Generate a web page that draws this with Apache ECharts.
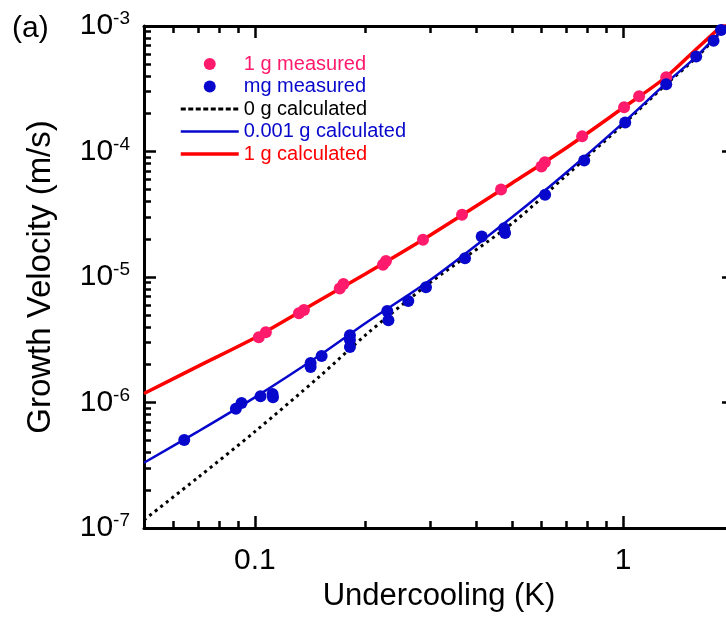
<!DOCTYPE html>
<html>
<head>
<meta charset="utf-8">
<script src="https://cdn.jsdelivr.net/npm/echarts@6/dist/echarts.min.js"></script>
<style>
html,body{margin:0;padding:0;background:#fff;overflow:hidden;}
#chart{width:726px;height:624px;}
</style>
</head>
<body>
<div id="chart"></div>
<script>
// ---- data ----
const xMajorTicks = [0.1, 1];
const xMinorTicks = [0.06, 0.07, 0.08, 0.09, 0.2, 0.3, 0.4, 0.5, 0.6, 0.7, 0.8, 0.9];
const yMajorTicks = [1e-7, 1e-6, 1e-5, 1e-4, 1e-3];
const yMinorTicks = [];
[1e-7, 1e-6, 1e-5, 1e-4].forEach(function (d) { for (let m = 2; m <= 9; m++) yMinorTicks.push(+(m * d).toPrecision(3)); });

const measured1g = [
  [0.1025, 3.31e-6], [0.1071, 3.63e-6], [0.1317, 5.15e-6], [0.1359, 5.45e-6],
  [0.170, 8.1e-6], [0.174, 8.8e-6], [0.2228, 1.25e-5], [0.2270, 1.34e-5],
  [0.2861, 1.98e-5], [0.3652, 3.13e-5], [0.4661, 4.97e-5], [0.600, 7.6e-5],
  [0.613, 8.2e-5], [0.7738, 1.32e-4], [1.006, 2.25e-4], [1.105, 2.75e-4],
  [1.309, 3.91e-4]
];
const measuredMg = [
  [0.0643, 5.03e-7], [0.0888, 8.9e-7], [0.0920, 9.9e-7], [0.1036, 1.12e-6],
  [0.1117, 1.17e-6], [0.112, 1.1e-6], [0.1417, 2.06e-6], [0.1417, 1.92e-6],
  [0.1518, 2.35e-6], [0.1812, 3.44e-6], [0.1812, 3.15e-6], [0.1812, 2.77e-6],
  [0.2288, 5.37e-6], [0.2305, 4.53e-6], [0.2610, 6.43e-6], [0.2915, 8.27e-6],
  [0.3721, 1.41e-5], [0.4130, 2.10e-5], [0.475, 2.45e-5], [0.478, 2.24e-5],
  [0.614, 4.53e-5], [0.784, 8.47e-5], [1.013, 1.70e-4], [1.309, 3.44e-4],
  [1.579, 5.72e-4], [1.760, 7.63e-4], [1.844, 9.3e-4]
];
const calcX = [0.05, 0.07, 0.1, 0.15, 0.2, 0.3, 0.5, 0.7, 1, 1.3, 1.6, 2];
const calc0g = [1.159e-7, 2.52e-7, 5.86e-7, 1.618e-6, 3.46e-6, 9.07e-6, 2.68e-5, 6.43e-5, 1.644e-4, 3.37e-4, 5.81e-4, 1.17e-3];
const calc0001g = [3.31e-7, 5.86e-7, 1.099e-6, 2.38e-6, 4.3e-6, 9.5e-6, 3.01e-5, 6.78e-5, 1.69e-4, 3.44e-4, 5.92e-4, 1.18e-3];
const calc1g = [1.18e-6, 1.941e-6, 3.28e-6, 6.52e-6, 1.062e-5, 2.163e-5, 5.62e-5, 1.067e-4, 2.23e-4, 3.87e-4, 6.78e-4, 1.228e-3];

const seriesNames = ['1 g measured', 'mg measured', '0 g calculated', '0.001 g calculated', '1 g calculated'];
const PINK = '#ff1a6c', BLUE = '#0808cc', RED = '#ff0000';
const FONT = 'Liberation Sans, Arial, sans-serif';

function pairs(xs, ys) { return xs.map(function (x, i) { return [x, ys[i]]; }); }

const X_MIN = 0.05, X_MAX = 2, Y_MIN = 1e-7, Y_MAX = 1e-3;

function xAxisDef(pos, ticks, len, showLine, showLabel) {
  return {
    type: 'log', logBase: 10, position: pos, min: X_MIN, max: X_MAX,
    axisLine: { show: showLine, lineStyle: { color: '#000', width: 3 } },
    axisTick: { show: true, inside: true, length: len, customValues: ticks, lineStyle: { color: '#000', width: 2.5 } },
    axisLabel: showLabel ? { show: true, customValues: ticks, fontSize: 30, fontFamily: FONT, color: '#000', margin: 18,
      formatter: function (v) { return v >= 1 ? '1' : '0.1'; } } : { show: false },
    splitLine: { show: false }, minorTick: { show: false }
  };
}
function yAxisDef(pos, ticks, len, showLine, showLabel) {
  return {
    type: 'log', logBase: 10, position: pos, min: Y_MIN, max: Y_MAX,
    axisLine: { show: showLine, lineStyle: { color: '#000', width: 3 } },
    axisTick: { show: true, inside: true, length: len, customValues: ticks, lineStyle: { color: '#000', width: 2.5 } },
    axisLabel: showLabel ? {
      show: true, customValues: ticks, margin: 14, color: '#000',
      formatter: function (v) { return '{b|10}{s|' + Math.round(Math.log10(v)) + '}'; },
      rich: {
        b: { fontSize: 30, fontFamily: FONT, color: '#000' },
        s: { fontSize: 19, fontFamily: FONT, color: '#000', verticalAlign: 'bottom', padding: [0, 0, 14, 0] }
      }
    } : { show: false },
    splitLine: { show: false }, minorTick: { show: false }
  };
}

const xAxes = [
  Object.assign(xAxisDef('bottom', xMajorTicks, 12, true, true), {
    name: 'Undercooling (K)', nameLocation: 'middle', nameGap: 50,
    nameTextStyle: { fontSize: 31, fontFamily: FONT, color: '#000' }
  }),
  xAxisDef('bottom', xMinorTicks, 7, false, false),
  xAxisDef('top', xMajorTicks, 12, true, false),
  xAxisDef('top', xMinorTicks, 7, false, false)
];
const yAxes = [
  Object.assign(yAxisDef('left', yMajorTicks, 12, true, true), {
    name: 'Growth Velocity (m/s)', nameLocation: 'middle', nameGap: 87,
    nameTextStyle: { fontSize: 33, fontFamily: FONT, color: '#000' }
  }),
  yAxisDef('left', yMinorTicks, 7, false, false),
  yAxisDef('right', yMajorTicks, 12, true, false)
];

const hiddenSymbol = { opacity: 0 };
const chart = echarts.init(document.getElementById('chart'), null, { renderer: 'canvas' });
chart.setOption({
  backgroundColor: '#fff',
  animation: false,
  grid: { left: 144, top: 26, right: -8, bottom: 96, containLabel: false, outerBoundsMode: 'none' },
  xAxis: xAxes,
  yAxis: yAxes,
  legend: {
    orient: 'vertical', left: 179, top: 54, padding: 0, itemWidth: 58, itemHeight: 12, itemGap: 2.5,
    textStyle: { fontSize: 20, fontFamily: FONT },
    data: [
      { name: seriesNames[0], textStyle: { color: PINK } },
      { name: seriesNames[1], textStyle: { color: BLUE } },
      { name: seriesNames[2], textStyle: { color: '#000' }, itemStyle: hiddenSymbol, lineStyle: { type: [5, 2.5], width: 3 } },
      { name: seriesNames[3], textStyle: { color: BLUE }, itemStyle: hiddenSymbol, lineStyle: { width: 2.5 } },
      { name: seriesNames[4], textStyle: { color: RED }, itemStyle: hiddenSymbol, lineStyle: { width: 3.5 } }
    ]
  },
  graphic: [{ type: 'text', left: 12, top: 14, style: { text: '(a)', fontSize: 30, fontFamily: FONT, fill: '#000' } }],
  series: [
    { name: seriesNames[2], type: 'line', data: pairs(calcX, calc0g), smooth: 0.3, symbol: 'none', color: '#000',
      lineStyle: { color: '#000', width: 3, type: [3, 4] }, z: 2 },
    { name: seriesNames[3], type: 'line', data: pairs(calcX, calc0001g), smooth: 0.3, symbol: 'none', color: BLUE,
      lineStyle: { color: BLUE, width: 2.5 }, z: 3 },
    { name: seriesNames[4], type: 'line', data: pairs(calcX, calc1g), smooth: 0.3, symbol: 'none', color: RED,
      lineStyle: { color: RED, width: 3.5 }, z: 4 },
    { name: seriesNames[0], type: 'scatter', data: measured1g, symbol: 'circle', symbolSize: 12, itemStyle: { color: PINK, opacity: 1 }, z: 5 },
    { name: seriesNames[1], type: 'scatter', data: measuredMg, symbol: 'circle', symbolSize: 12, itemStyle: { color: BLUE, opacity: 1 }, z: 6 }
  ]
});
</script>
</body>
</html>
